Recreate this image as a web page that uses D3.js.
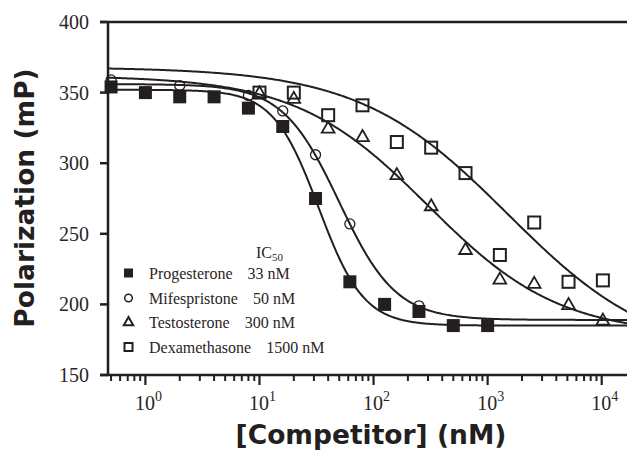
<!DOCTYPE html>
<html><head><meta charset="utf-8">
<script src="https://cdn.jsdelivr.net/npm/d3@7"></script>
<style>body{margin:0;background:#fff}svg{display:block}</style>
</head><body>
<svg id="c" width="627" height="451"></svg>
<script>
// ---- data ----
const seriesNames = ["Progesterone", "Mifespristone", "Testosterone", "Dexamethasone"];
const ic50Labels = ["33 nM", "50 nM", "300 nM", "1500 nM"];
const progX = [0.5, 1, 2, 4, 8, 16, 31, 62, 125, 250, 500, 1000];
const progY = [354, 350, 347, 347, 339, 326, 275, 216, 200, 195, 185, 185];
const mifeX = [0.5, 2, 8, 16, 31, 62, 250];
const mifeY = [359, 355, 348, 337, 306, 257, 199];
const testX = [10, 20, 40, 80, 160, 320, 640, 1280, 2560, 5120, 10240];
const testY = [350, 346, 325, 319, 292, 270, 239, 218, 215, 200, 189];
const dexaX = [10, 20, 40, 80, 160, 320, 640, 1280, 2560, 5120, 10240];
const dexaY = [350, 350, 334, 341, 315, 311, 293, 235, 258, 216, 217];
// fitted 4-parameter logistic curves: top, bottom, IC50, hill
const fitTop = [352, 356, 362, 368];
const fitBottom = [185, 189, 178, 160];
const fitIC50 = [33, 50, 300, 1500];
const fitHill = [2.2, 1.75, 0.75, 0.665];
const yTicks = [150, 200, 250, 300, 350, 400];
const xMajor = [1, 10, 100, 1000, 10000];
const xMajorExp = ["0", "1", "2", "3", "4"];

const ink = "#231f20";
const svg = d3.select("#c");
const x = d3.scaleLog().domain([0.47, 17000]).range([108, 628]);
const y = d3.scaleLinear().domain([150, 400]).range([375, 22]);

// minor ticks
const minor = [];
for (let d = -1; d <= 4; d++) for (let m = 2; m <= 9; m++) {
  const v = m * Math.pow(10, d);
  if (v >= 0.47 && v <= 17000) minor.push(v);
}

// curves
const curveG = svg.append("g");
const xs = d3.range(0, 401).map(i => Math.pow(10, Math.log10(0.47) + i / 400 * (Math.log10(17000) - Math.log10(0.47))));
const line = d3.line().x(d => x(d[0])).y(d => y(d[1]));
for (let s = 0; s < 4; s++) {
  const pts = xs.map(v => [v, fitBottom[s] + (fitTop[s] - fitBottom[s]) / (1 + Math.pow(v / fitIC50[s], fitHill[s]))]);
  curveG.append("path").attr("d", line(pts)).attr("fill", "none").attr("stroke", ink).attr("stroke-width", 2);
}

// points
const ptG = svg.append("g");
dexaX.forEach((v, i) => ptG.append("rect").attr("x", x(v) - 6).attr("y", y(dexaY[i]) - 6).attr("width", 12).attr("height", 12)
  .attr("fill", "none").attr("stroke", ink).attr("stroke-width", 2));
const tri = d3.symbol().type(d3.symbolTriangle).size(70);
testX.forEach((v, i) => ptG.append("path").attr("d", tri()).attr("transform", `translate(${x(v)},${y(testY[i]) + 1})`)
  .attr("fill", "none").attr("stroke", ink).attr("stroke-width", 1.8));
progX.forEach((v, i) => ptG.append("rect").attr("x", x(v) - 6.5).attr("y", y(progY[i]) - 6.5).attr("width", 13).attr("height", 13)
  .attr("fill", ink));
mifeX.forEach((v, i) => ptG.append("circle").attr("cx", x(v)).attr("cy", y(mifeY[i])).attr("r", 5)
  .attr("fill", "none").attr("stroke", ink).attr("stroke-width", 1.3));

// axes
const ax = svg.append("g").attr("stroke", ink);
ax.append("line").attr("x1", 100).attr("x2", 627).attr("y1", 22).attr("y2", 22).attr("stroke-width", 2.5);
ax.append("line").attr("x1", 100).attr("x2", 627).attr("y1", 375).attr("y2", 375).attr("stroke-width", 2.5);
ax.append("line").attr("x1", 108).attr("x2", 108).attr("y1", 22).attr("y2", 376).attr("stroke-width", 2.5);
yTicks.forEach(t => ax.append("line").attr("x1", 100).attr("x2", 108).attr("y1", y(t)).attr("y2", y(t)).attr("stroke-width", 2.5));
xMajor.forEach(t => ax.append("line").attr("x1", x(t)).attr("x2", x(t)).attr("y1", 375).attr("y2", 385).attr("stroke-width", 2.2));
minor.forEach(t => ax.append("line").attr("x1", x(t)).attr("x2", x(t)).attr("y1", 375).attr("y2", 381).attr("stroke-width", 2));

const serif = "'Liberation Serif', 'DejaVu Serif', serif";
const txt = "#2a2526";
yTicks.forEach(t => svg.append("text").attr("x", 89).attr("y", y(t) + 7).attr("text-anchor", "end")
  .attr("font-family", serif).attr("font-size", 20).attr("fill", txt).text(t));
xMajor.forEach((t, i) => {
  const tx = svg.append("text").attr("x", x(t) + 3).attr("y", 410).attr("text-anchor", "middle")
    .attr("font-family", serif).attr("font-size", 20).attr("fill", txt);
  tx.append("tspan").text("10");
  tx.append("tspan").attr("dy", -9).attr("font-size", 14).text(xMajorExp[i]);
});

// axis titles
const sans = "'DejaVu Sans', Verdana, sans-serif";
svg.append("text").attr("x", 371).attr("y", 444).attr("text-anchor", "middle").attr("font-family", sans)
  .attr("font-weight", "bold").attr("font-size", 26.5).attr("fill", ink).text("[Competitor] (nM)");
svg.append("text").attr("transform", "translate(34,198) rotate(-90)").attr("text-anchor", "middle").attr("font-family", sans)
  .attr("font-weight", "bold").attr("font-size", 26.5).attr("fill", ink).text("Polarization (mP)");

// legend
const lg = svg.append("g");
const ic = lg.append("text").attr("x", 256).attr("y", 258).attr("font-family", serif).attr("font-size", 16).attr("fill", txt);
ic.append("tspan").text("IC");
ic.append("tspan").attr("dy", 3).attr("font-size", 11).text("50");
const rowsY = [273, 298, 322, 347];
rowsY.forEach((ry, i) => {
  if (i === 0) lg.append("rect").attr("x", 124).attr("y", ry - 4.5).attr("width", 9).attr("height", 9).attr("fill", ink);
  if (i === 1) lg.append("circle").attr("cx", 128.5).attr("cy", ry).attr("r", 3.8).attr("fill", "none").attr("stroke", ink).attr("stroke-width", 1.5);
  if (i === 2) lg.append("path").attr("d", d3.symbol().type(d3.symbolTriangle).size(38)()).attr("transform", `translate(128.5,${ry + 0.5})`)
    .attr("fill", "none").attr("stroke", ink).attr("stroke-width", 2);
  if (i === 3) lg.append("rect").attr("x", 124.5).attr("y", ry - 4).attr("width", 8).attr("height", 8).attr("fill", "none").attr("stroke", ink).attr("stroke-width", 2);
  const t = lg.append("text").attr("x", 149).attr("y", ry + 6).attr("font-family", serif).attr("font-size", 16).attr("fill", txt);
  t.append("tspan").text(seriesNames[i]);
  t.append("tspan").attr("dx", 15).text(ic50Labels[i]);
});
</script>
</body></html>
